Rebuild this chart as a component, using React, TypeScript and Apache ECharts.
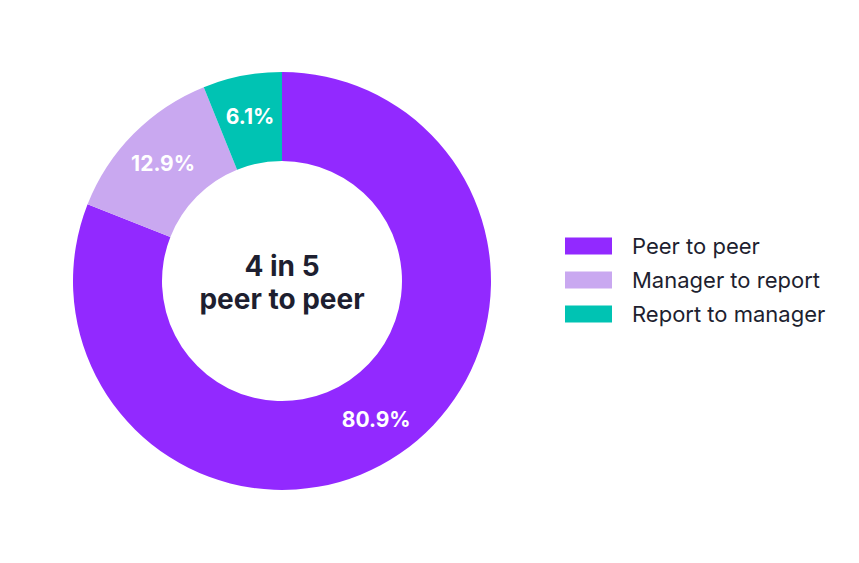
import React, { useEffect, useRef } from 'react';
import * as echarts from 'echarts';

const categories = ['Peer to peer', 'Manager to report', 'Report to manager'];
const shares = [80.9, 12.9, 6.1];
const colors = ['#9229FF', '#C9A8F0', '#00C3B3'];
const centerLines = ['4 in 5', 'peer to peer'];

const App: React.FC = () => {
  const chartRef = useRef<HTMLDivElement>(null);

  useEffect(() => {
    document.body.style.margin = '0';
    if (!chartRef.current) return;
    const chart = echarts.init(chartRef.current, undefined, { renderer: 'svg' });

    chart.setOption({
      animation: false,
      textStyle: { fontFamily: 'Inter' },
      legend: {
        orient: 'vertical',
        left: 560,
        top: 230,
        itemWidth: 47,
        itemHeight: 17,
        itemGap: 12,
        icon: 'rect',
        data: categories,
        textStyle: {
          fontSize: 22,
          lineHeight: 22,
          color: '#1e1f30',
          padding: [0, 0, 0, 15],
        },
      },
      graphic: [
        {
          type: 'text',
          x: 282,
          y: 282,
          style: {
            text: centerLines.join('\n'),
            align: 'center',
            verticalAlign: 'middle',
            fill: '#1e1f30',
            fontSize: 28,
            fontWeight: 'bold',
            fontFamily: 'Inter',
            lineHeight: 33,
          },
        },
      ],
      series: [
        {
          type: 'pie',
          center: [282, 281],
          radius: [120, 209],
          startAngle: 90,
          clockwise: true,
          avoidLabelOverlap: false,
          label: {
            show: true,
            position: 'inside',
            formatter: (p: any) => `${p.value}%`,
            color: '#ffffff',
            fontSize: 21,
            fontWeight: 'bold',
            fontFamily: 'Inter',
          },
          labelLine: { show: false },
          emphasis: { disabled: true },
          data: categories.map((name, i) => ({
            name,
            value: shares[i],
            itemStyle: { color: colors[i] },
          })),
        },
      ],
    });

    return () => {
      chart.dispose();
    };
  }, []);

  return <div ref={chartRef} style={{ width: 859, height: 563 }} />;
};

export default App;
